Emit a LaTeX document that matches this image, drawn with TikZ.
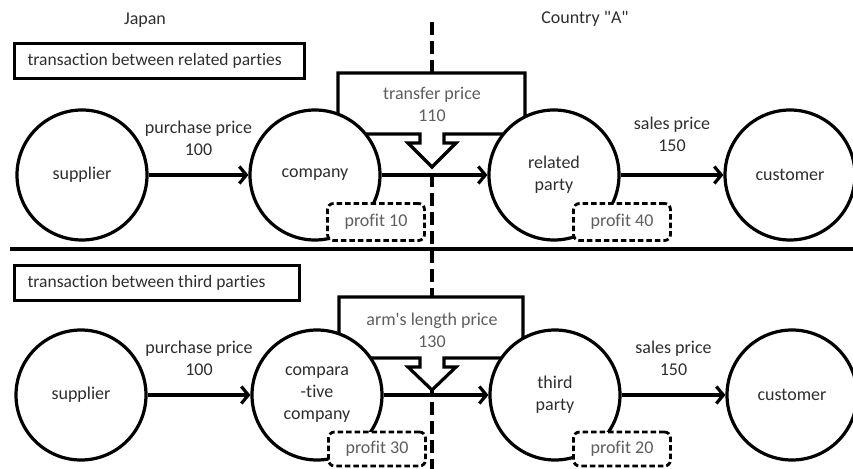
\documentclass[tikz,border=0pt]{standalone}
\usepackage{fontspec}
\setmainfont{Carlito}[Ligatures=NoCommon]
\usetikzlibrary{arrows.meta}
\definecolor{ink}{HTML}{2E2E2E}
\definecolor{soft}{HTML}{5E5E5E}
\begin{document}
\begin{tikzpicture}[x=1pt,y=-1pt,
  every node/.style={font=\fontsize{18}{22}\selectfont, text=ink},
  party/.style={circle, draw=black, line width=3.2pt, fill=white,
    minimum size=130pt, inner sep=0pt, align=center},
  flow/.style={line width=3.2pt, -{Straight Barb[length=7pt,width=17pt]}},
  callout/.style={draw=black, fill=white, line width=3.2pt, line join=miter},
  pricetag/.style={align=center, text=soft},
  profit/.style={draw=black, fill=white, line width=2.8pt,
    dash pattern=on 5.5pt off 3pt, rounded corners=6pt,
    minimum width=97pt, minimum height=37pt, inner sep=0pt, text=soft},
  casebox/.style={draw=black, line width=3.2pt, inner xsep=0pt,
    minimum height=35pt, font=\fontsize{17.5}{22}\selectfont},
  border/.style={line width=3.2pt, dash pattern=on 13pt off 6pt},
  divider/.style={line width=4.2pt}]

\useasboundingbox (0,0) rectangle (853,468);

% country border and section divider
\coordinate (bordertop) at (432,22);
\coordinate (borderbot) at (432,470);
\draw[border] (bordertop) -- (borderbot);
\coordinate (divl) at (10,249);
\coordinate (divr) at (853,249);
\draw[divider] (divl) -- (divr);

\node (japan) at (145,20) {Japan};
\node (countryA) at (585,19) {Country \textquotedbl A\textquotedbl};

% ---------- upper row: related parties ----------
\node[casebox, anchor=west, minimum width=290pt] (case1) at (13,61)
  {\makebox[264pt][l]{transaction between related parties}};

\path[callout] (338,134) -- (338,73) -- (525,73) -- (525,134) -- (444,134)
  -- (444,143) -- (456,143) -- (432,167) -- (408,143) -- (420,143)
  -- (420,134) -- cycle;
\node[pricetag] (tp) at (432,104) {transfer price\\110};

\node[party] (sup1) at (82,175) {supplier};
\node[party] (comp1) at (315,175) {company};
\node[party] (rel1) at (554,175) {related\\party};
\node[party] (cust1) at (790,175) {customer};

\draw[flow] (sup1) -- node[midway, yshift=37pt, align=center] (pp1) {purchase price\\100} (comp1);
\draw[flow] (comp1) -- (rel1);
\draw[flow] (rel1) -- node[midway, yshift=41pt, align=center] (sp1) {sales price\\150} (cust1);

\node[profit] (pr10) at (376,222) {profit 10};
\node[profit] (pr40) at (622,222) {profit 40};

% ---------- lower row: third parties ----------
\node[casebox, anchor=west, minimum width=285pt] (case2) at (13,283)
  {\makebox[259pt][l]{transaction between third parties}};

\path[callout] (339,358) -- (339,297) -- (523,297) -- (523,358) -- (444,358)
  -- (444,367) -- (456,367) -- (432,390) -- (408,367) -- (420,367)
  -- (420,358) -- cycle;
\node[pricetag] (alp) at (432,330) {arm\textquotesingle s length price\\130};

\node[party] (sup2) at (81,395) {supplier};
\node[party] (comp2) at (317,395) {compara\\-tive\\company};
\node[party] (third2) at (555,395) {third\\party};
\node[party] (cust2) at (792,395) {customer};

\draw[flow] (sup2) -- node[midway, yshift=37pt, align=center] (pp2) {purchase price\\100} (comp2);
\draw[flow] (comp2) -- (third2);
\draw[flow] (third2) -- node[midway, yshift=37pt, align=center] (sp2) {sales price\\150} (cust2);

\node[profit, minimum height=34pt] (pr30) at (377,449) {profit 30};
\node[profit, minimum height=34pt] (pr20) at (622,449) {profit 20};

\end{tikzpicture}
\end{document}
